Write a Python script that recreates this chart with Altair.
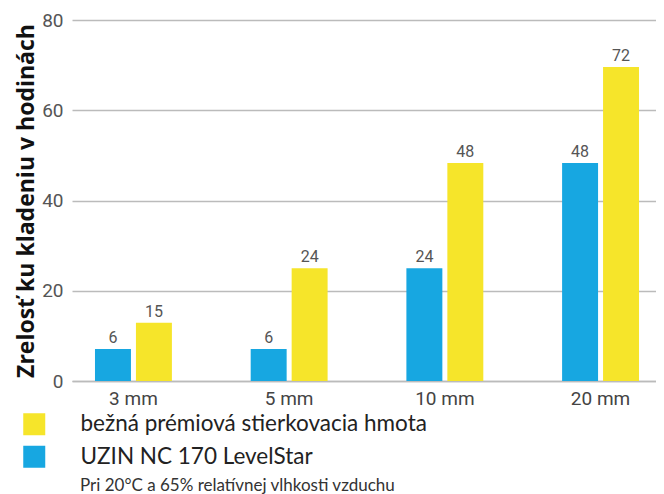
import altair as alt
import pandas as pd

categories = ["3 mm", "5 mm", "10 mm", "20 mm"]
series_names = ["bežná prémiová stierkovacia hmota", "UZIN NC 170 LevelStar"]
# bar heights as drawn in the picture
uzin_heights = [7.1, 7.1, 25.0, 48.3]
bezna_heights = [12.9, 25.0, 48.3, 69.6]
# value labels printed above the bars
uzin_labels = ["6", "6", "24", "48"]
bezna_labels = ["15", "24", "48", "72"]
series_colors = ["#F6E52A", "#17A7E1"]
y_ticks = [0, 20, 40, 60, 80]
y_title = "Zrelosť ku kladeniu v hodinách"
footnote = "Pri 20°C a 65% relatívnej vlhkosti vzduchu"

rows = []
for i, c in enumerate(categories):
    rows.append({"category": c, "series": series_names[1], "height": uzin_heights[i], "label": uzin_labels[i]})
    rows.append({"category": c, "series": series_names[0], "height": bezna_heights[i], "label": bezna_labels[i]})
df = pd.DataFrame(rows)

NARROW = "Roboto"
SANS = "Lato"

x_enc = alt.X(
    "category:N",
    sort=categories,
    scale=alt.Scale(range=[0, 590], paddingInner=0.506, paddingOuter=0.1476, round=False),
    axis=alt.Axis(
        title=None, labelAngle=0, ticks=False, domain=True, domainColor="#bbbbbb",
        domainWidth=1.5, labelFont=NARROW, labelFontSize=19, labelColor="#444444",
        labelPadding=8, grid=False,
    ),
)
xoff_enc = alt.XOffset(
    "series:N",
    sort=[series_names[1], series_names[0]],
    scale=alt.Scale(paddingInner=0.122, paddingOuter=0, round=False),
)
y_enc = alt.Y(
    "height:Q",
    scale=alt.Scale(domain=[0, 80], nice=False),
    axis=alt.Axis(
        title=y_title, values=y_ticks, ticks=False, domain=False, grid=True,
        gridColor="#bbbbbb", gridWidth=1.5, labelFont=NARROW, labelFontSize=19,
        labelColor="#555555", labelPadding=9, titleFont="Open Sans", titleFontSize=23,
        titleFontWeight="bold", titleColor="#111111", titlePadding=3,
    ),
)

base = alt.Chart(df).encode(x=x_enc, xOffset=xoff_enc)

bars = base.mark_bar().encode(
    y=y_enc,
    color=alt.Color(
        "series:N",
        scale=alt.Scale(domain=series_names, range=series_colors),
        legend=alt.Legend(
            orient="none", legendX=-49, legendY=393, title=None,
            symbolType="square", symbolSize=484, symbolOpacity=1,
            symbolStrokeWidth=0, labelFont=SANS, labelFontSize=22.5,
            labelColor="#222222", labelOffset=35, rowPadding=9.5,
            padding=0, labelLimit=600,
        ),
    ),
)

labels = base.mark_text(
    baseline="alphabetic", dy=-6, font=NARROW, fontSize=16, color="#555555"
).encode(y=alt.Y("height:Q"), text="label:N")

note = alt.Chart(pd.DataFrame({"t": [footnote]})).mark_text(
    align="left", baseline="alphabetic", font=SANS, fontSize=17, color="#333333"
).encode(x=alt.value(8), y=alt.value(471), text="t:N")

chart = alt.layer(bars, labels, note).properties(
    width=584,
    height=361,
    autosize=alt.AutoSizeParams(type="none"),
    padding={"left": 64, "top": 12, "right": 0, "bottom": 116},
).configure_view(strokeWidth=0)

chart.save("out.html", embed_options={"renderer": "svg", "actions": False})
